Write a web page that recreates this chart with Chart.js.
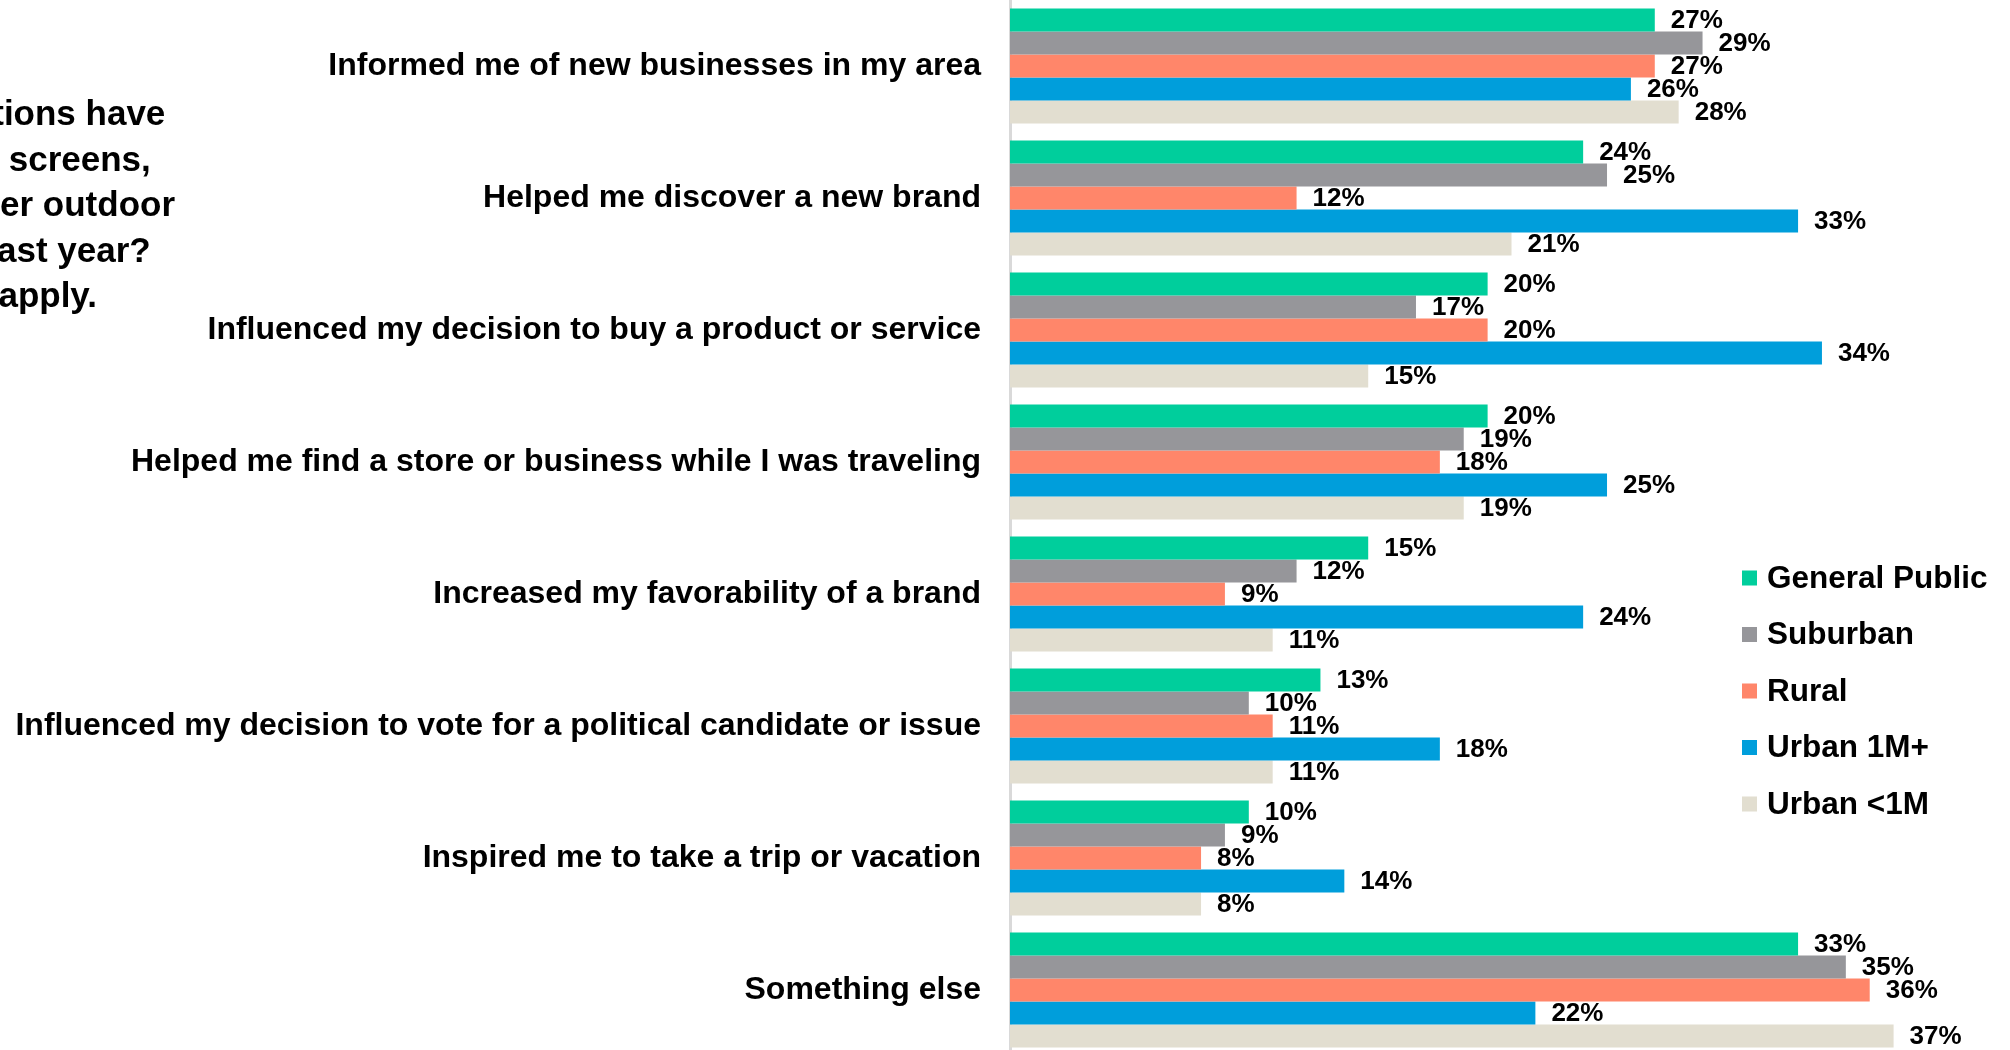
<!DOCTYPE html>
<html>
<head>
<meta charset="utf-8">
<script src="https://cdn.jsdelivr.net/npm/chart.js@4/dist/chart.umd.min.js"></script>
<style>
  html, body { margin: 0; padding: 0; background: #fff; overflow: hidden; }
  #wrap { position: relative; width: 2013px; height: 1056px; }
</style>
</head>
<body>
<div id="wrap"><canvas id="outdoorChart"></canvas></div>
<script>
const categories = [
  "Informed me of new businesses in my area",
  "Helped me discover a new brand",
  "Influenced my decision to buy a product or service",
  "Helped me find a store or business while I was traveling",
  "Increased my favorability of a brand",
  "Influenced my decision to vote for a political candidate or issue",
  "Inspired me to take a trip or vacation",
  "Something else",
];

const seriesNames = ["General Public", "Suburban", "Rural", "Urban 1M+", "Urban <1M"];

const generalPublic = [27, 24, 20, 20, 15, 13, 10, 33];
const suburban = [29, 25, 17, 19, 12, 10, 9, 35];
const rural = [27, 12, 20, 18, 9, 11, 8, 36];
const urbanLarge = [26, 33, 34, 25, 24, 18, 14, 22];
const urbanSmall = [28, 21, 15, 19, 11, 11, 8, 37];

const questionLines = [
  "Which of these actions have",
  "digital billboards, screens,",
  "posters, or any other outdoor",
  "ads done in the past year?",
  "Select all that apply.",
];

const colors = ["#00CE9C", "#96969A", "#FF866A", "#009EDB", "#E2DED0"];
const FONT = "'Liberation Sans', Arial, sans-serif";

// value labels to the right of every bar
const barValueLabels = {
  id: "barValueLabels",
  afterDatasetsDraw(chart) {
    const ctx = chart.ctx;
    ctx.save();
    ctx.font = "bold 26px " + FONT;
    ctx.fillStyle = "#000";
    ctx.textAlign = "left";
    ctx.textBaseline = "middle";
    chart.data.datasets.forEach((ds, i) => {
      const meta = chart.getDatasetMeta(i);
      meta.data.forEach((bar, j) => {
        ctx.fillText(ds.data[j] + "%", bar.x + 16, bar.y + 1);
      });
    });
    ctx.restore();
  },
};

// legend block on the right, stacked vertically
const sideLegend = {
  id: "sideLegend",
  afterDraw(chart) {
    const ctx = chart.ctx;
    ctx.save();
    ctx.font = "bold 31.5px " + FONT;
    ctx.textAlign = "left";
    ctx.textBaseline = "middle";
    chart.data.datasets.forEach((ds, i) => {
      const y = 578 + i * 56.5;
      ctx.fillStyle = ds.backgroundColor;
      ctx.fillRect(1742, y - 7.5, 15, 15);
      ctx.fillStyle = "#000";
      ctx.fillText(ds.label, 1767, y + 1);
    });
    ctx.restore();
  },
};

// question text in the top-left corner (runs off the left edge)
const questionText = {
  id: "questionText",
  afterDraw(chart) {
    const ctx = chart.ctx;
    ctx.save();
    ctx.font = "bold 35px " + FONT;
    ctx.fillStyle = "#000";
    ctx.textAlign = "center";
    ctx.textBaseline = "alphabetic";
    questionLines.forEach((line, i) => {
      ctx.fillText(line, -70, 125 + i * 45.5);
    });
    ctx.restore();
  },
};

const ctx = document.getElementById("outdoorChart").getContext("2d");

new Chart(ctx, {
  type: "bar",
  data: {
    labels: categories,
    datasets: [generalPublic, suburban, rural, urbanLarge, urbanSmall].map((values, i) => ({
      label: seriesNames[i],
      data: values,
      backgroundColor: colors[i],
      borderWidth: 0,
      categoryPercentage: 0.871,
      barPercentage: 1,
    })),
  },
  options: {
    indexAxis: "y",
    responsive: true,
    maintainAspectRatio: false,
    animation: false,
    layout: { padding: 0 },
    plugins: {
      legend: { display: false },
      tooltip: { enabled: false },
    },
    scales: {
      x: {
        display: false,
        min: 0,
        max: 42,
      },
      y: {
        afterFit: (scale) => {
          // fixed label column, and no extra room above/below the bars
          scale.width = 1010;
          scale.paddingTop = 0;
          scale.paddingBottom = 0;
        },
        grid: { display: false, drawTicks: false },
        border: { display: true, color: "#D9D9D9", width: 3 },
        ticks: {
          padding: 29,
          color: "#000",
          font: { family: FONT, size: 32, weight: "bold" },
        },
      },
    },
  },
  plugins: [barValueLabels, sideLegend, questionText],
});
</script>
</body>
</html>
